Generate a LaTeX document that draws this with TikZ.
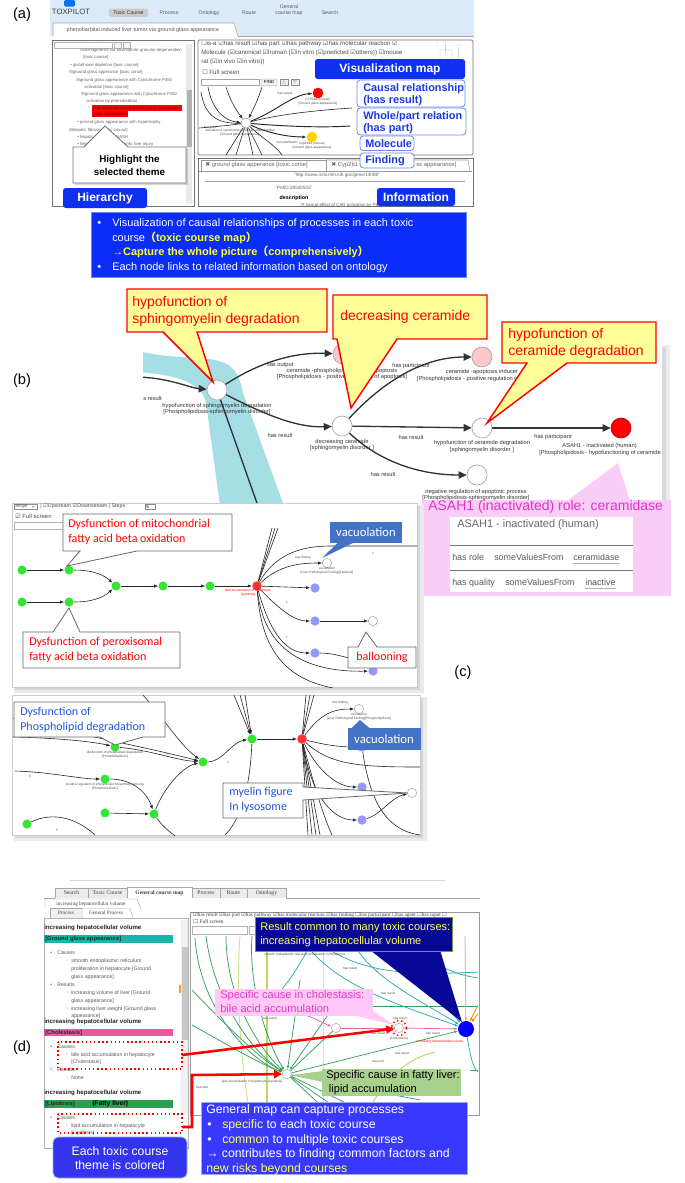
\documentclass[tikz,border=0pt]{standalone}
\usepackage{fontspec}
\setmainfont{Liberation Sans}
\newfontfamily\carl{Carlito}
\newfontfamily\dvs{DejaVu Sans}
\newfontfamily\tms{Liberation Serif}
\newfontfamily\cjkf{Noto Sans CJK JP}
\usetikzlibrary{arrows.meta,shadows}
\newcommand\cbx{{\dvs ☑}}
\newcommand\ubx{{\dvs ☐}}
\newcommand\mbx{{\dvs ⊟}}
\newcommand\fsz[2]{\fontsize{#1}{#2}\selectfont}
\definecolor{hdr}{RGB}{221,235,249}
\definecolor{vblue}{RGB}{16,48,240}
\definecolor{lblue}{RGB}{26,58,224}
\definecolor{bbord}{RGB}{110,140,230}
\definecolor{tblue}{RGB}{10,45,250}
\definecolor{yel}{RGB}{255,255,60}
\definecolor{yel2}{RGB}{255,255,90}
\definecolor{cyanb}{RGB}{166,222,230}
\definecolor{darkg}{RGB}{51,51,51}
\definecolor{pinkn}{RGB}{255,200,200}
\definecolor{ylw}{RGB}{255,255,153}
\definecolor{pinkp}{RGB}{250,204,248}
\definecolor{mag}{RGB}{228,50,200}
\definecolor{ngreen}{RGB}{50,230,50}
\definecolor{npurp}{RGB}{150,150,255}
\definecolor{nred}{RGB}{255,50,50}
\definecolor{cblue}{RGB}{68,114,196}
\definecolor{navy}{RGB}{8,8,150}
\definecolor{olive}{RGB}{120,150,60}
\definecolor{cpink}{RGB}{255,200,246}
\definecolor{cmag}{RGB}{225,60,200}
\definecolor{cgreen}{RGB}{169,209,142}
\definecolor{gblue}{RGB}{56,56,255}
\definecolor{eblue}{RGB}{52,52,238}
\definecolor{tealbar}{RGB}{25,180,170}
\definecolor{pinkbar}{RGB}{232,90,160}
\definecolor{greenbar}{RGB}{40,160,80}
\definecolor{lteal}{RGB}{40,170,170}
\definecolor{lgreen}{RGB}{50,160,90}
\definecolor{ygreen}{RGB}{190,215,100}
\definecolor{lpink}{RGB}{225,100,160}
\definecolor{ygold}{RGB}{255,215,0}
\definecolor{ctblue}{RGB}{34,85,221}
\begin{document}
\begin{tikzpicture}[x=0.75pt,y=-0.75pt,
 lbl/.style={font=\fsz{11}{13}, inner sep=0pt},
 tabt/.style={font=\fsz{3.9}{4.6}, text=black!65, inner sep=0pt, align=center},
 htree/.style={font=\fsz{3.2}{3.8}, text=black!60, anchor=west, inner sep=0pt},
 chk/.style={font=\fsz{4.6}{5.2}, text=black!70, anchor=west, inner sep=0pt},
 tnx/.style={font=\fsz{2.4}{2.9}, text=black!70, inner sep=0pt, align=center},
 vbox/.style={fill=vblue, rounded corners=2pt},
 vtxt/.style={text=white, font=\bfseries\fsz{9}{10}, inner sep=0pt},
 wbox/.style={fill=white, draw=bbord, line width=0.6pt, rounded corners=2.5pt},
 wtxt/.style={text=lblue, font=\bfseries\fsz{8.2}{9}, anchor=base west, inner sep=0pt, align=left},
 atxt/.style={text=white, font=\fsz{8.2}{11}, anchor=base west, inner sep=0pt},
 ycall/.style={fill=ylw, draw=red, line width=1.1pt, line join=miter},
 ytxt/.style={text=red, font=\fsz{10.5}{12.4}, anchor=base west, inner sep=0pt, align=left},
 bnode/.style={circle, draw=black!35, fill=white, minimum size=15pt, inner sep=0pt, line width=0.5pt},
 blab/.style={font=\fsz{4.3}{5.2}, text=darkg, inner sep=0pt, align=center},
 elab/.style={font=\fsz{4.3}{5}, text=darkg, inner sep=0pt},
 barr/.style={draw=darkg, line width=1pt, -{Triangle[length=6pt,width=5.5pt]}},
 cg/.style={circle, fill=ngreen, minimum size=6.8pt, inner sep=0pt},
 cr/.style={circle, fill=nred, minimum size=7.2pt, inner sep=0pt},
 cpu/.style={circle, fill=npurp, minimum size=7pt, inner sep=0pt},
 cw/.style={circle, fill=white, draw=black!40, line width=0.3pt, minimum size=7pt, inner sep=0pt},
 cedge/.style={draw=black!85, line width=0.45pt, -{Latex[length=3pt,width=2.4pt]}},
 cline/.style={draw=black!85, line width=0.45pt},
 cbox/.style={fill=white, draw=black!60, line width=0.6pt, line join=miter},
 ctxt/.style={font=\carl\fsz{9}{10.9}, anchor=base west, inner sep=0pt, align=left},
 gedge/.style={line width=0.55pt, -{Latex[length=2.6pt,width=2pt]}},
 lst/.style={font=\fsz{3.9}{4.6}, text=black!65, anchor=west, inner sep=0pt},
 hd/.style={font=\bfseries\fsz{4.6}{5.4}, text=black!85, anchor=west, inner sep=0pt},
 dtxt/.style={font=\fsz{8.3}{10.3}, anchor=base west, inner sep=0pt, align=left},
 dtab/.style={font=\tms\fsz{4.2}{5}, text=black!75, inner sep=0pt},
 rowt/.style={font=\fsz{6.7}{8}, text=black!65, anchor=base west, inner sep=0pt},
 dw/.style={circle, fill=white, draw=black!40, line width=0.3pt, minimum size=7pt, inner sep=0pt}
]
\useasboundingbox (0,0) rectangle (685,1183);
\fill[white] (0,0) rectangle (685,1183);

% ================= (a) =================
\node[lbl] (La) at (22,15) {(a)};
\fill[hdr] (50,0) rectangle (474,36);
\fill[vblue!70!cyan, rounded corners=1pt] (64,0) rectangle (75,6.5);
\node[font=\fsz{5.8}{6}, text=black!75, inner sep=0pt] (logo) at (71,12) {TOXPILOT};
\fill[black!20, rounded corners=1pt] (109,8.5) rectangle (148,17);
\node[tabt, text=black!80] (ta1) at (128.5,12.8) {Toxic Course};
\node[tabt] (ta2) at (169,12.8) {Process};
\node[tabt] (ta3) at (209,12.8) {Ontology};
\node[tabt] (ta4) at (249,12.8) {Route};
\node[tabt] (ta5) at (289,10) {General\\course map};
\node[tabt] (ta6) at (330,12.8) {Search};
\filldraw[fill=white, draw=black!35, line width=0.4pt] (53,36.5) -- (53,23) -- (234,23) -- (238,36.5);
\node[font=\fsz{4.1}{5}, text=black!65, inner sep=0pt] (ttl) at (143,29.8) {phenobarbital induced liver tumor via ground glass appearance};
\draw[black!35, line width=0.4pt] (238,36.5) -- (474,36.5);

% hierarchy panel
\draw[black!55, line width=0.6pt] (52,40) rectangle (194,206);
\draw[black!30, line width=0.3pt] (54,42) rectangle (112,48);
\draw[black!30, line width=0.3pt, fill=black!5] (114,42) rectangle (121,48);
\draw[black!30, line width=0.3pt, fill=black!5] (123,42) rectangle (130,48);
\fill[black!8] (186,44) rectangle (192,204);
\fill[black!30] (186.5,90) rectangle (191.5,147);
\node[htree] (h1) at (80,50) {carcinogenesis via eosinophilic granular degeneration};
\node[htree] (h2) at (83,57) {[toxic course]};
\node[htree] (h3) at (70,65) {• glutathione depletion [toxic course]};
\node[htree] (h4) at (69,72) {\mbx ground glass apperance [toxic corse]};
\node[htree] (h5) at (76,80) {\mbx ground glass appearance with Cytochrome P450};
\node[htree] (h6) at (84,87) {activation [toxic course]};
\node[htree] (h7) at (81,94) {\mbx ground glass appearance with Cytochrome P450};
\node[htree] (h8) at (86,101) {activation by phenobarbital};
\fill[red] (92,105) rectangle (182,111);
\fill[red] (92,111) rectangle (128,117);
\node[htree] (h9) at (88,108) {-};
\node[htree, text=red!45!black] (h10) at (93,108) {phenobarbital induced liver tumor via ground};
\node[htree, text=red!45!black] (h11) at (93,114) {glass appearance};
\node[htree] (h12) at (77,122) {• ground glass appearance with hypertrophy};
\node[htree] (h13) at (69,130) {\mbx hepatic fibrosis [toxic course]};
\node[htree] (h14) at (77,137) {• hepatic fibrosis via NASH};
\node[htree] (h15) at (77,144) {• hepatic fibrosis via alcoholic liver injury};

% map panel
\draw[black!55, line width=0.6pt, rounded corners=1pt] (198,40) rectangle (473,155);
\begin{scope}
\clip (199,41) rectangle (472,154);
\node[chk] (k1) at (201,44) {\ubx is-a \cbx has result \cbx has part \cbx has pathway \cbx has molecular reaction \cbx};
\node[chk] (k2) at (201,53) {Molecule (\cbx canonical \cbx human (\cbx in vitro (\cbx predicted \cbx others)) \cbx mouse};
\node[chk] (k3) at (201,62) {rat (\cbx in vivo \cbx in vitro))};
\node[chk] (k4) at (202,72) {\ubx\ Full screen};
\draw[black!35, line width=0.3pt] (201,79) rectangle (259,85.5);
\draw[black!45, line width=0.3pt, fill=black!5, rounded corners=0.5pt] (261,79) rectangle (277,85.5);
\node[font=\fsz{3.3}{4}, inner sep=0pt] (fnd) at (269,82.3) {FIND};
\draw[black!45, line width=0.3pt, fill=black!5] (280,79) rectangle (288,85.5);
\draw[black!45, line width=0.3pt, fill=black!5] (291,79) rectangle (299,85.5);
\node[font=\dvs\fsz{3.5}{4}, text=black!60, inner sep=0pt] (upb) at (284,82.3) {△};
\node[font=\dvs\fsz{3.5}{4}, text=black!60, inner sep=0pt] (dnb) at (295,82.3) {▽};
\draw[black!30, line width=0.3pt] (437,41) -- (437,48) (445,41) -- (446,55) (440,50) rectangle (452,60) (443,60) -- (441,75) (450,60) -- (452,75) (455,45) -- (462,45) (458,47) -- (460,70);
\node[circle, draw=black!40, fill=white, minimum size=7.5pt, inner sep=0pt] (am) at (246,123) {};
\node[circle, fill=red, minimum size=8pt, inner sep=0pt] (ar) at (318,93) {};
\node[circle, fill=ygold, minimum size=8pt, inner sep=0pt] (ay) at (312,137) {};
\draw[cedge] (208,87) .. controls (212,110) and (225,121) .. (am);
\draw[cedge] (226,87) .. controls (230,100) and (236,110) .. (am);
\draw[cedge] (262,87) .. controls (258,100) and (252,112) .. (am);
\draw[cline] (201,92) .. controls (205,118) and (220,124) .. (am);
\draw[cline] (am) -- (226,155);
\draw[cline] (am) -- (236,155);
\draw[cline] (am) -- (253,155);
\draw[cline] (am) -- (262,155);
\draw[cline] (am) .. controls (262,138) and (275,145) .. (282,155);
\draw[cedge, line width=0.7pt] (am) .. controls (275,112) and (292,95) .. (ar);
\draw[cedge, line width=0.7pt] (am) .. controls (270,134) and (290,137) .. (ay);
\draw[cline] (am) .. controls (280,114) and (320,110) .. (352,108);
\draw[cline, line width=0.7pt] (am) .. controls (280,126) and (320,128) .. (350,126);
\draw[cline] (am) .. controls (225,126) and (210,127) .. (199,128);
\node[tnx] (al1) at (285,94) {has output};
\node[tnx] (al2) at (318,101.5) {CYP2B6 (human)\\{}[Ground glass appearance]};
\node[tnx] (al3) at (312,145.5) {Cyp2b10 (mouse)\\{}[Ground glass appearance]};
\node[tnx] (al4) at (210,128) {has part};
\node[tnx] (al5) at (240,133) {activation of cytochrome p450 with phenobarbital\\{}[Ground glass appearance]};
\node[tnx] (al6) at (287,143) {has participant};
\end{scope}

% information panel
\draw[black!55, line width=0.6pt] (198,158) rectangle (473,206);
\draw[black!40, line width=0.4pt] (201,171) -- (201,160) -- (326,160) -- (326,171);
\draw[black!40, line width=0.4pt] (326,160) -- (468,160) -- (470,171);
\draw[black!40, line width=0.4pt] (199,171) -- (472,171);
\node[font=\fsz{4.4}{5}, text=black!60, anchor=west, inner sep=0pt] (i1) at (205,165) {{\dvs ✖} ground glass apperance [toxic corse]};
\node[font=\fsz{4.4}{5}, text=black!60, anchor=west, inner sep=0pt] (i2) at (331,165) {{\dvs ✖} Cyp2b1};
\node[font=\fsz{4.4}{5}, text=black!60, anchor=west, inner sep=0pt] (i2b) at (416,165) {ss appearance]};
\node[font=\fsz{3.5}{4}, text=black!60, inner sep=0pt] (i3) at (337,175) {"http://www.ncbi.nlm.nih.gov/gene/13088"};
\draw[black!35, line width=0.4pt] (205,181) -- (465,181);
\node[font=\fsz{3.5}{4}, text=black!60, inner sep=0pt] (i4) at (294,188) {"PMID:28540505"};
\node[font=\bfseries\fsz{4}{5}, inner sep=0pt] (i5) at (294,198) {description};
\node[font=\fsz{3.3}{4}, text=black!60, anchor=west, inner sep=0pt] (i6) at (300,205) {"A typical effect of CAR activation by PB};

% callouts (a)
\fill[vbox] (315,59) rectangle (465,79);
\node[vtxt] (vm) at (390,69.3) {Visualization map};
\draw[wbox] (357,80) rectangle (465,107);
\node[wtxt] (cr1) at (363,103.5) {Causal relationship\\(has result)};
\draw[wbox] (357,108) rectangle (466,135);
\node[wtxt] (wp1) at (363,131) {Whole/part relation\\(has part)};
\draw[wbox] (360,136) rectangle (414,150.5);
\node[wtxt] (mo1) at (365,147) {Molecule};
\draw[wbox] (360,153) rectangle (414,168);
\node[wtxt] (fi1) at (365,163.5) {Finding};
\fill[vbox] (377,188) rectangle (455,206);
\node[vtxt] (inf) at (416,197.3) {Information};
\filldraw[fill=white, draw=black!55, line width=0.6pt, drop shadow={shadow xshift=1.5pt, shadow yshift=-1.5pt, opacity=0.3}] (73,147) -- (84,147) -- (105,126) -- (128,147) -- (186,147) -- (186,183) -- (73,183) -- cycle;
\node[font=\bfseries\fsz{7.4}{9.7}, align=center, inner sep=0pt] (hl) at (129.5,165) {Highlight the\\selected theme};
\fill[vbox] (63,188) rectangle (147,208);
\node[vtxt] (hier) at (105,198.3) {Hierarchy};

\filldraw[fill=tblue, draw=bbord, line width=0.6pt] (91,212) rectangle (466,277);
\node[atxt] (b1a) at (97,226.5) {•};
\node[atxt] (b1) at (112,226.5) {Visualization of causal relationships of processes in each toxic};
\node[atxt] (b2) at (112,241) {course\textcolor{yel}{\bfseries{\cjkf （}toxic course map{\cjkf ）}}};
\node[atxt, text=yel, font=\bfseries\fsz{8.2}{11}] (b3) at (112,255.5) {→Capture the whole picture{\cjkf （}comprehensively{\cjkf ）}};
\node[atxt] (b4a) at (97,270) {•};
\node[atxt] (b4) at (112,270) {Each node links to related information based on ontology};

% ================= (b) =================
\node[lbl] (Lb) at (22,381) {(b)};
\fill[black!7] (145,345) rectangle (670,510);
\fill[black!15] (147,347) rectangle (666,507);
\fill[white] (143,343) rectangle (662,505);
\begin{scope}
\clip (143,343) rectangle (662,505);
\fill[cyanb] (135,350) .. controls (175,362) and (215,352) .. (232,368) .. controls (240,376) and (241,385) .. (243,393) -- (284,506) -- (220,506) -- (206,402) .. controls (200,380) and (170,374) .. (135,372) -- cycle;
\node[bnode] (n1) at (217,390) {};
\node[bnode, fill=pinkn] (n2) at (343,354) {};
\node[bnode] (n3) at (342,426) {};
\node[bnode, fill=pinkn] (n4) at (482,357) {};
\node[bnode] (n5) at (482,428) {};
\node[bnode, fill=red, draw=red!75!black] (n6) at (621,428) {};
\node[bnode] (n7) at (477,475) {};
\coordinate (n0) at (138,377);
\coordinate (n8) at (258,506);
\draw[barr] (n0) .. controls (170,378) and (190,388) .. (n1);
\draw[barr] (n1) .. controls (255,365) and (290,352) .. (n2);
\draw[barr] (n1) .. controls (260,412) and (295,428) .. (n3);
\draw[darkg, line width=1pt] (n1) -- (n8);
\draw[barr] (n3) .. controls (380,385) and (420,357) .. (n4);
\draw[barr] (n3) -- (n5);
\draw[barr] (n3) .. controls (380,462) and (420,475) .. (n7);
\draw[barr] (n5) -- (n6);
\node[blab] (l1) at (217,409) {hypofunction of sphingomyelin degradation\\{}[Phospholipidosis-sphingomyelin disorder]};
\node[blab] (l2) at (342,374) {ceramide -phospholipid mediated apoptosis\\{}[Phospholipidosis - positive regulation of apoptosis]};
\node[blab] (l3) at (342,445) {decreasing ceramide\\{}[sphingomyelin disorder ]};
\node[blab] (l4) at (482,375.5) {ceramide -apoptosis inducer\\{}[Phospholipidosis - positive regulation of apoptosis]};
\node[blab] (l5) at (482,446.5) {hypofunction of ceramide degradation\\{}[sphingomyelin disorder ]};
\node[blab, anchor=north east, align=right] (l6) at (661,443.5) {ASAH1 - inactivated (human)\hspace*{18pt}\\{}[Phospholipidosis - hypofunctioning of ceramide};
\node[blab] (l7) at (476,495) {negative regulation of apoptotic process\\{}[Phospholipidosis-sphingomyelin disorder]};
\node[elab] (e1) at (280,365) {has output};
\node[elab] (e2) at (280,435) {has result};
\node[elab] (e3) at (411,366) {has participant};
\node[elab] (e4) at (411,437) {has result};
\node[elab] (e5) at (553,437) {has participant};
\node[elab] (e6) at (383,474) {has result};
\node[elab, anchor=east] (e7) at (162,398) {has result};
\end{scope}
\filldraw[ycall] (127,289) -- (327,289) -- (327,332) -- (197,332) -- (213,382) -- (163,332) -- (127,332) -- cycle;
\node[ytxt] (y1) at (132,323) {hypofunction of\\sphingomyelin degradation};
\filldraw[ycall] (333,295) -- (487,295) -- (487,339) -- (397,339) -- (351,408) -- (337,339) -- (333,339) -- cycle;
\node[ytxt] (y2) at (340,320) {decreasing ceramide};
\filldraw[ycall] (502,322) -- (656,322) -- (656,363) -- (567,363) -- (487,423) -- (527,363) -- (502,363) -- cycle;
\node[ytxt] (y3) at (508,355) {hypofunction of\\ceramide degradation};

% ASAH1 panel
\fill[pinkp] (422,500) rectangle (671,596);
\fill[pinkp] (567,501) -- (618,463) -- (630,501) -- cycle;
\node[font=\fsz{10.5}{12}, text=mag, anchor=base west, inner sep=0pt] (as0) at (428,510) {ASAH1 (inactivated) role: ceramidase};
\fill[white] (450,517) rectangle (633,592);
\draw[black!55, line width=0.5pt] (450,545) -- (633,545) (450,570) -- (633,570);
\node[font=\fsz{8.2}{9}, text=black!60, anchor=base west, inner sep=0pt] (as1) at (457,527) {ASAH1 - inactivated (human)};
\node[rowt] (as2) at (452,560) {has role};
\node[rowt] (as3) at (494,560) {someValuesFrom};
\node[rowt] (as4) at (573,560) {ceramidase};
\draw[black!30, line width=0.4pt] (573,563) -- (620,563);
\node[rowt] (as5) at (452,585) {has quality};
\node[rowt] (as6) at (505,585) {someValuesFrom};
\node[rowt] (as7) at (585,585) {inactive};
\draw[black!30, line width=0.4pt] (585,588) -- (616,588);

% ================= (c) =================
\node[lbl] (Lc) at (463,673) {(c)};
\fill[black!8] (14,505) rectangle (424,693);
\fill[black!16] (15,506) rectangle (420,690);
\fill[white] (12,503) rectangle (417,687);
\draw[black!20, line width=0.3pt] (12,503) rectangle (417,687);
\draw[black!45, line width=0.3pt] (14,503.8) rectangle (37,509.5);
\node[font=\fsz{3.3}{4}, text=black!70, anchor=west, inner sep=0pt] (cs1) at (15,506.6) {Single};
\draw[black!60, line width=0.25pt] (32,506) -- (33.2,507.3) -- (34.4,506);
\node[chk, font=\fsz{4}{5}] (cs2) at (40,506.6) {| \cbx Upstream \cbx Downstream | Steps};
\draw[black!45, line width=0.3pt] (145,503.8) rectangle (155,509.5);
\node[font=\fsz{3.3}{4}, anchor=west, inner sep=0pt] (cs3) at (146,506.6) {5};
\node[chk, font=\fsz{4.5}{5}] (cs4) at (15,516) {\cbx\ Full screen};
\draw[black!30, line width=0.3pt] (14,522) rectangle (66,529);
\begin{scope}
\clip (12,503) rectangle (417,687);
\node[cg] (c1) at (22,570) {};
\node[cg] (c2) at (69,570) {};
\node[cg] (c3) at (22,602) {};
\node[cg] (c4) at (69,602) {};
\node[cg] (c5) at (116,586) {};
\node[cg] (c6) at (163,586) {};
\node[cg] (c7) at (210,586) {};
\node[cr] (c8) at (257,586) {};
\node[cpu] (c9) at (315,588) {};
\node[cpu] (c10) at (315,621) {};
\node[cpu] (c11) at (315,653) {};
\node[cw] (c12) at (327,563) {};
\node[cw] (c13) at (373,621) {};
\node[cpu] (c14) at (373,671) {};
\draw[cedge] (c1) -- (c2);
\draw[cedge] (c3) -- (c4);
\draw[cedge] (c2) .. controls (95,570) and (105,576) .. (c5);
\draw[cedge] (c4) .. controls (95,602) and (105,596) .. (c5);
\draw[cedge] (c5) -- (c6);
\draw[cedge] (c6) -- (c7);
\draw[cedge] (c7) -- (c8);
\draw[cedge] (c8) .. controls (280,565) and (300,563) .. (c12);
\draw[cedge] (c8) -- (c9);
\draw[cedge] (c8) .. controls (280,610) and (295,621) .. (c10);
\draw[cedge] (c8) .. controls (272,640) and (290,653) .. (c11);
\draw[cedge] (c10) -- (c13);
\draw[cedge] (c8) .. controls (265,660) and (320,672) .. (c14);
\draw[cline] (c8) .. controls (262,665) and (300,684) .. (345,690);
\draw[cline] (c8) -- (272,528);
\draw[cline] (c8) -- (275,528);
\draw[cline] (c8) -- (278,528);
\draw[cline] (c8) .. controls (275,555) and (300,546) .. (330,546) -- (420,546);
\draw[cline] (c11) .. controls (335,653) and (345,658) .. (360,660);
\node[tnx] (ct1) at (303,558) {has finding};
\node[tnx] (ct2) at (327,571) {vacuolation\\{}[Liver Pathological Finding][Lipidosis]};
\node[tnx] (ct3) at (373,553) {1};
\node[tnx] (ct4) at (287,602) {1};
\node[tnx] (ct5) at (287,637) {1};
\node[tnx, text=red] (ct6) at (248,593) {lipid accumulation in hepatocyte\\{}[Lipidosis]};
\end{scope}
\filldraw[cbox] (63,514) -- (232,514) -- (232,551) -- (137,551) -- (67,566) -- (80,551) -- (63,551) -- cycle;
\node[ctxt, text=red] (cc1) at (68,542.5) {Dysfunction of mitochondrial\\fatty acid beta oxidation};
\filldraw[cbox] (23,632) -- (53,632) -- (69,608) -- (80,632) -- (180,632) -- (180,668) -- (23,668) -- cycle;
\node[ctxt, text=red] (cc2) at (29,660) {Dysfunction of peroxisomal\\fatty acid beta oxidation};
\fill[cblue] (330,522) rectangle (402,543);
\fill[cblue] (338,542.5) -- (354,542.5) -- (322,558) -- cycle;
\node[font=\carl\fsz{9.5}{10}, text=white, inner sep=0pt] (cc3) at (366,532.5) {vacuolation};
\filldraw[cbox] (348,647) -- (358,647) -- (366,632) -- (377,647) -- (416,647) -- (416,668) -- (348,668) -- cycle;
\node[font=\carl\fsz{9}{10}, text=red, inner sep=0pt] (cc4) at (382,657.5) {ballooning};

% (c) bottom
\fill[black!8] (14,697) rectangle (427,841);
\fill[black!16] (15,698) rectangle (423,838);
\fill[white] (12,695) rectangle (420,835);
\draw[black!20, line width=0.3pt] (12,695) rectangle (420,835);
\begin{scope}
\clip (12,695) rectangle (420,835);
\node[cg] (d1) at (115,747) {};
\node[cg] (d2) at (203,762) {};
\node[cg] (d3) at (252,739) {};
\node[cr] (d4) at (302,739) {};
\node[cg] (d5) at (105,779) {};
\node[cg] (d6) at (105,813) {};
\node[cg] (d7) at (154,814) {};
\node[cg] (d8) at (27,824) {};
\node[cpu] (d9) at (362,747) {};
\node[cpu] (d10) at (362,787) {};
\node[cpu] (d11) at (362,820) {};
\node[cw] (d12) at (359,709) {};
\node[cw] (d13) at (412,793) {};
\draw[cedge] (13,737) .. controls (60,738) and (95,742) .. (d1);
\draw[cedge] (d1) .. controls (150,750) and (175,760) .. (d2);
\draw[cedge] (13,718) .. controls (80,735) and (150,748) .. (d2);
\draw[cedge] (143,695) .. controls (165,720) and (180,745) .. (d2);
\draw[cedge] (15,771) .. controls (50,772) and (80,779) .. (d5);
\draw[cedge] (d5) .. controls (135,779) and (148,795) .. (d7);
\draw[cedge] (d6) -- (d7);
\draw[cedge] (d7) .. controls (165,785) and (185,766) .. (d2);
\draw[cedge] (d2) .. controls (222,762) and (232,742) .. (d3);
\draw[cedge] (234,695) -- (d3);
\draw[cedge] (240,695) -- (d3);
\draw[cedge] (245,695) -- (d3);
\draw[cedge] (d3) -- (d4);
\draw[cedge] (d4) .. controls (322,712) and (335,709) .. (d12);
\draw[cedge] (d4) .. controls (325,745) and (340,747) .. (d9);
\draw[cedge] (d4) .. controls (320,775) and (340,787) .. (d10);
\draw[cedge] (d4) .. controls (312,800) and (335,820) .. (d11);
\draw[cline] (d4) .. controls (330,765) and (360,767) .. (420,767);
\draw[cline] (d4) -- (306,695);
\draw[cline] (d4) -- (310,695);
\draw[cline] (d4) -- (314,695);
\draw[cline] (d4) -- (308,835);
\draw[cline] (d4) -- (312,835);
\draw[cline] (d4) -- (316,835);
\draw[cline] (d4) -- (320,835);
\draw[cline] (d4) .. controls (315,790) and (325,820) .. (332,835);
\draw[cedge] (d11) .. controls (380,815) and (392,797) .. (d13);
\draw[cline] (d9) .. controls (370,800) and (385,830) .. (420,835);
\draw[cline] (d8) .. controls (45,815) and (70,812) .. (95,835);
\draw[cline] (d7) .. controls (165,830) and (175,835) .. (180,840);
\draw[cline] (d3) .. controls (250,790) and (240,820) .. (225,835);
\node[tnx] (dt1) at (115,755) {dysfunction of phospholipid degradation\\{}[Phospholipidosis]};
\node[tnx] (dt2) at (105,787) {positive regulation of phospholipid biosynthetic process\\{}[Phospholipidosis]};
\node[tnx] (dt3) at (359,717) {vacuolation\\{}[Liver Pathological Finding][Phospholipidosis]};
\node[tnx] (dt4) at (340,703) {has finding};
\node[tnx] (dt5) at (30,776) {5};
\node[tnx] (dt6) at (57,830) {5};
\node[tnx] (dt7) at (228,762) {2};
\node[tnx] (dt8) at (167,754) {1};
\end{scope}
\filldraw[cbox] (14,702) -- (165,702) -- (165,737) -- (143,737) -- (115,745) -- (100,737) -- (14,737) -- cycle;
\node[ctxt, text=ctblue] (cc5) at (20,730.5) {Dysfunction of\\Phospholipid degradation};
\filldraw[cbox] (223,783) -- (303,783) -- (303,787) -- (408,793) -- (303,800) -- (303,818) -- (223,818) -- cycle;
\node[ctxt, text=ctblue] (cc6) at (229,810) {myelin figure\\In lysosome};
\fill[cblue] (348,728) rectangle (420.5,750);
\fill[cblue] (351,728.5) -- (370,728.5) -- (360,720) -- cycle;
\node[font=\carl\fsz{9.5}{10}, text=white, inner sep=0pt] (cc7) at (384,739.5) {vacuolation};

% ================= (d) =================
\node[lbl] (Ld) at (22,1048) {(d)};
\draw[black!15, line width=0.5pt] (70,880) -- (445,880);
\filldraw[fill=black!8, draw=black!35, line width=0.35pt] (55,898) -- (55,888) -- (88,888) -- (88,898);
\filldraw[fill=black!8, draw=black!35, line width=0.35pt] (88,898) -- (88,888) -- (127,888) -- (127,898);
\filldraw[fill=black!8, draw=black!35, line width=0.35pt] (192,898) -- (192,888) -- (220,888) -- (220,898);
\filldraw[fill=black!8, draw=black!35, line width=0.35pt] (220,898) -- (220,888) -- (247,888) -- (247,898);
\filldraw[fill=black!8, draw=black!35, line width=0.35pt] (247,898) -- (247,888) -- (286,888) -- (286,898);
\filldraw[fill=white, draw=black!35, line width=0.35pt] (127,898) -- (127,887) -- (192,887) -- (192,898);
\draw[black!35, line width=0.35pt] (44,898) -- (55,898) (286,898) -- (480,898);
\node[dtab] (dt01) at (71.5,893) {Search};
\node[dtab] (dt02) at (107.5,893) {Toxic Course};
\node[dtab, font=\tms\bfseries\fsz{4.2}{5}] (dt03) at (159.5,893) {General course map};
\node[dtab] (dt04) at (206,893) {Process};
\node[dtab] (dt05) at (233.5,893) {Route};
\node[dtab] (dt06) at (266.5,893) {Ontology};
\filldraw[fill=white, draw=black!35, line width=0.35pt] (45,909) -- (45,899) -- (137,899) -- (141,909);
\node[dtab, font=\tms\fsz{3.9}{5}] (dt07) at (91,904) {increasing hepatocellular volume};
\filldraw[fill=black!6, draw=black!35, line width=0.35pt] (50,917.5) -- (50,908.5) -- (82,908.5) -- (82,917.5);
\filldraw[fill=white, draw=black!35, line width=0.35pt] (82,917.5) -- (82,908.5) -- (130,908.5) -- (133,917.5);
\node[dtab, font=\tms\fsz{3.9}{5}] (dt08) at (66,913) {Process};
\node[dtab, font=\tms\fsz{3.9}{5}] (dt09) at (106,913) {General Process};

% left list
\draw[black!30, line width=0.4pt] (44,918) rectangle (188,1148);
\fill[black!6] (181,920) rectangle (188,1113);
\fill[black!22] (181.5,947) rectangle (187.5,1040);
\fill[orange!80] (178.5,985) rectangle (180.5,993);
\node[hd] (q1) at (44,928) {increasing hepatocellular volume};
\fill[tealbar] (44,935) rectangle (173,943);
\node[hd, font=\bfseries\fsz{4.4}{5}] (q2) at (45,939) {[Ground glass appearance]};
\node[lst] (q3) at (50,953) {•};
\node[lst] (q4) at (57,953) {Causes};
\node[lst] (q5) at (65,961) {{\dvs ◦}};
\node[lst] (q6) at (71,961) {smooth endoplasmic reticulum};
\node[lst] (q7) at (71,969) {proliferation in hepatocyte [Ground};
\node[lst] (q8) at (71,977) {glass appearance]};
\node[lst] (q9) at (50,985) {•};
\node[lst] (q10) at (57,985) {Results};
\node[lst] (q11) at (65,993) {{\dvs ◦}};
\node[lst] (q12) at (71,993) {increasing volume of liver [Ground};
\node[lst] (q13) at (71,1001) {glass appearance]};
\node[lst] (q14) at (65,1009) {{\dvs ◦}};
\node[lst] (q15) at (71,1009) {increasing liver weight [Ground glass};
\node[lst] (q16) at (71,1016) {appearance]};
\node[hd] (q17) at (44,1022) {increasing hepatocellular volume};
\fill[pinkbar] (44,1029) rectangle (173,1036);
\node[hd, font=\bfseries\fsz{4.4}{5}] (q18) at (45,1032.5) {[Cholestasis]};
\node[lst] (q19) at (50,1047) {•};
\node[lst] (q20) at (57,1047) {Causes};
\node[lst] (q21) at (65,1055) {{\dvs ◦}};
\node[lst] (q22) at (71,1055) {bile acid accumulation in hepatocyte};
\node[lst] (q23) at (71,1062) {[Cholestasis]};
\node[lst] (q24) at (50,1070) {•};
\node[lst] (q25) at (57,1070) {Results};
\node[lst] (q26) at (65,1078) {{\dvs ◦}};
\node[lst] (q27) at (71,1078) {None};
\node[hd] (q28) at (44,1093) {increasing hepatocellular volume};
\fill[greenbar] (44,1100) rectangle (173,1108);
\node[hd, font=\bfseries\fsz{4.4}{5}] (q29) at (45,1104) {[Lipidosis]};
\node[hd, font=\bfseries\fsz{5}{6}, text=black] (q30) at (92,1104) {(Fatty liver)};
\node[lst] (q31) at (50,1118) {•};
\node[lst] (q32) at (57,1118) {Causes};
\node[lst] (q33) at (65,1126) {{\dvs ◦}};
\node[lst] (q34) at (71,1126) {lipid accumulation in hepatocyte};
\node[lst] (q35) at (71,1133) {[Lipidosis]};

% map (d)
\draw[black!40, line width=0.4pt] (190,912) rectangle (479,1115);
\node[font=\tms\fsz{3.9}{5}, anchor=west, inner sep=0pt, text=black!75] (dk1) at (193,914.8) {\cbx has result \cbx has part \cbx has pathway \cbx has molecular reaction \cbx has finding \ubx has participant \ubx has agent \ubx has input \ubx};
\node[font=\tms\fsz{4.1}{5}, anchor=west, inner sep=0pt, text=black!75] (dk2) at (193,922) {\ubx\ Full screen};
\draw[black!30, line width=0.3pt] (192,926) rectangle (247,934);
\draw[black!30, line width=0.3pt] (249,926) rectangle (255,934);
\begin{scope}
\clip (191,936) rectangle (478,1114);
\node[circle, fill=blue, minimum size=12pt, inner sep=0pt] (dB) at (466,1029) {};
\node[dw] (dC1) at (336,1028) {};
\node[dw] (dC2) at (399,1028) {};
\node[dw] (dF) at (287,1074) {};
\draw[ygreen, line width=1.1pt] (267,936) -- (267,1114);
\draw[ygreen!60, line width=0.6pt] (323,936) -- (323,1114);
\draw[ygreen!80, line width=0.6pt] (240,936) .. controls (236,990) and (240,1060) .. (250,1114);
\draw[lgreen, gedge] (195,938) .. controls (200,1010) and (250,1060) .. (dF);
\draw[lgreen, gedge] (206,936) .. controls (214,1000) and (252,1052) .. (dF);
\draw[lgreen, gedge] (226,936) .. controls (226,1000) and (262,1052) .. (dF);
\draw[lgreen, gedge] (192,990) .. controls (230,1030) and (262,1060) .. (dF);
\draw[lgreen, gedge] (192,1025) .. controls (240,1052) and (265,1066) .. (dF);
\draw[lgreen, gedge] (252,936) .. controls (248,990) and (270,1048) .. (dF);
\draw[lgreen, gedge] (300,980) -- (dF);
\draw[lgreen, gedge] (330,1012) -- (dF);
\draw[lgreen, line width=0.55pt] (dF) -- (330,1114);
\draw[lgreen, line width=0.55pt] (dF) -- (345,1114);
\draw[lgreen, line width=0.55pt] (dF) -- (360,1110);
\draw[lgreen, line width=0.55pt] (dF) -- (420,1100);
\draw[lgreen, gedge] (dF) -- (dB);
\draw[lgreen, line width=0.55pt] (dF) -- (dC1);
\draw[lteal, gedge] (300,936) .. controls (330,985) and (400,1005) .. (dB);
\draw[lteal, gedge] (350,936) .. controls (365,975) and (420,1000) .. (dB);
\draw[lteal, gedge] (400,955) -- (dB);
\draw[lteal, line width=0.55pt] (330,950) .. controls (370,975) and (420,975) .. (478,972);
\draw[lteal, line width=0.55pt] (420,950) .. controls (440,970) and (460,975) .. (478,978);
\draw[lteal, line width=0.55pt] (dB) .. controls (470,1055) and (473,1068) .. (478,1072);
\draw[lteal, line width=0.55pt] (315,936) .. controls (300,965) and (285,990) .. (270,1000);
\draw[lgreen, line width=0.55pt] (373,1006) -- (478,1006);
\draw[lgreen, line width=0.55pt] (470,1070) -- (478,1070);
\draw[orange, gedge] (478,1005) -- (dB);
\draw[orange, gedge] (478,1014) -- (dB);
\draw[brown!70, gedge] (465,936) -- (dB);
\draw[lpink, gedge] (300,1013) .. controls (315,1018) and (325,1024) .. (dC1);
\draw[lpink, gedge] (dC1) -- (dC2);
\draw[lpink, gedge] (dC2) -- (dB);
\draw[ygreen, line width=0.7pt] (367,1114) .. controls (385,1075) and (410,1058) .. (435,1052);
\draw[red, dotted, line width=1.1pt] (dC2) circle [radius=7.5];
\node[tnx] (m1) at (305,955) {smooth endoplasmic reticulum proliferation in hepatocyte};
\node[tnx] (m2) at (350,968) {has result};
\node[tnx] (m3) at (388,993) {has result};
\node[tnx] (m4) at (400,1018) {has result};
\node[tnx] (m5) at (378,1033) {has result};
\node[tnx] (m6) at (433,1033) {has result};
\node[tnx] (m7) at (402,1053) {has result};
\node[tnx] (m8) at (270,1018) {has result};
\node[tnx] (m9) at (378,1062) {has part};
\node[tnx, text=red] (m10) at (440,1042) {increasing hepatocellular volume};
\node[tnx] (m11) at (399,1039) {[Cholestasis]};
\node[tnx] (m12) at (252,1082) {lipid accumulation in hepatocyte [Lipidosis]};
\node[tnx] (m13) at (202,1088) {has part};
\end{scope}

% callouts (d)
\fill[navy] (370,950) -- (440,950) -- (462,1022) -- cycle;
\filldraw[fill=navy, draw=olive, line width=0.6pt] (255,917) rectangle (452,951);
\node[dtxt, text=yel2] (dR) at (260,944.7) {Result common to many toxic courses:\\increasing hepatocellular volume};
\fill[cpink] (215,989) rectangle (373,1016);
\fill[cpink] (355,1015.5) -- (373,1011) -- (394,1025) -- cycle;
\node[dtxt, text=cmag] (dP) at (220,1012.7) {Specific cause in cholestasis:\\bile acid accumulation};
\fill[cgreen] (322,1069) rectangle (461,1096);
\fill[cgreen] (322.5,1071) -- (322.5,1082) -- (292,1075) -- cycle;
\node[dtxt] (dGr) at (326,1092.7) {Specific cause in fatty liver:\\\hspace*{2pt}lipid accumulation};
\filldraw[fill=gblue, draw=bbord!70, line width=0.6pt] (201,1102) rectangle (467,1174);
\node[dtxt, text=white, font=\fsz{9.2}{11}] (g1) at (206,1113) {General map can capture processes};
\node[dtxt, text=white, font=\fsz{9.2}{11}] (g2b) at (207,1128) {•};
\node[dtxt, text=white, font=\fsz{9.2}{11}] (g2) at (222,1128) {\textcolor{yel2}{specific} to each toxic course};
\node[dtxt, text=white, font=\fsz{9.2}{11}] (g3b) at (207,1143) {•};
\node[dtxt, text=white, font=\fsz{9.2}{11}] (g3) at (222,1143) {\textcolor{yel2}{common} to multiple toxic courses};
\node[dtxt, text=white, font=\fsz{9.2}{11}] (g4) at (206,1157.5) {→ contributes to finding common factors and};
\node[dtxt, text=yel2, font=\fsz{9.2}{11}] (g5) at (206,1172) {new risks beyond courses};
\draw[red, dotted, line width=1.1pt] (58,1042) rectangle (182,1069);
\draw[red, dotted, line width=1.1pt] (58,1114) rectangle (182,1133);
\coordinate (rA) at (182,1055);
\coordinate (rB) at (182,1127);
\draw[red, line width=1.9pt, -{Triangle[length=6pt,width=6pt]}] (rA) -- (dC2);
\draw[red, line width=1.9pt, line join=miter, -{Triangle[length=6pt,width=6pt]}] (rB) -- (192,1127) -- (192,1075) -- (dF);
\filldraw[fill=eblue, draw=bbord!70, line width=0.6pt, rounded corners=4pt] (53,1137) rectangle (187,1178);
\node[text=white, font=\fsz{9.2}{10.5}, align=center, inner sep=0pt] (eT) at (120,1158) {Each toxic course\\theme is colored};
\end{tikzpicture}
\end{document}
